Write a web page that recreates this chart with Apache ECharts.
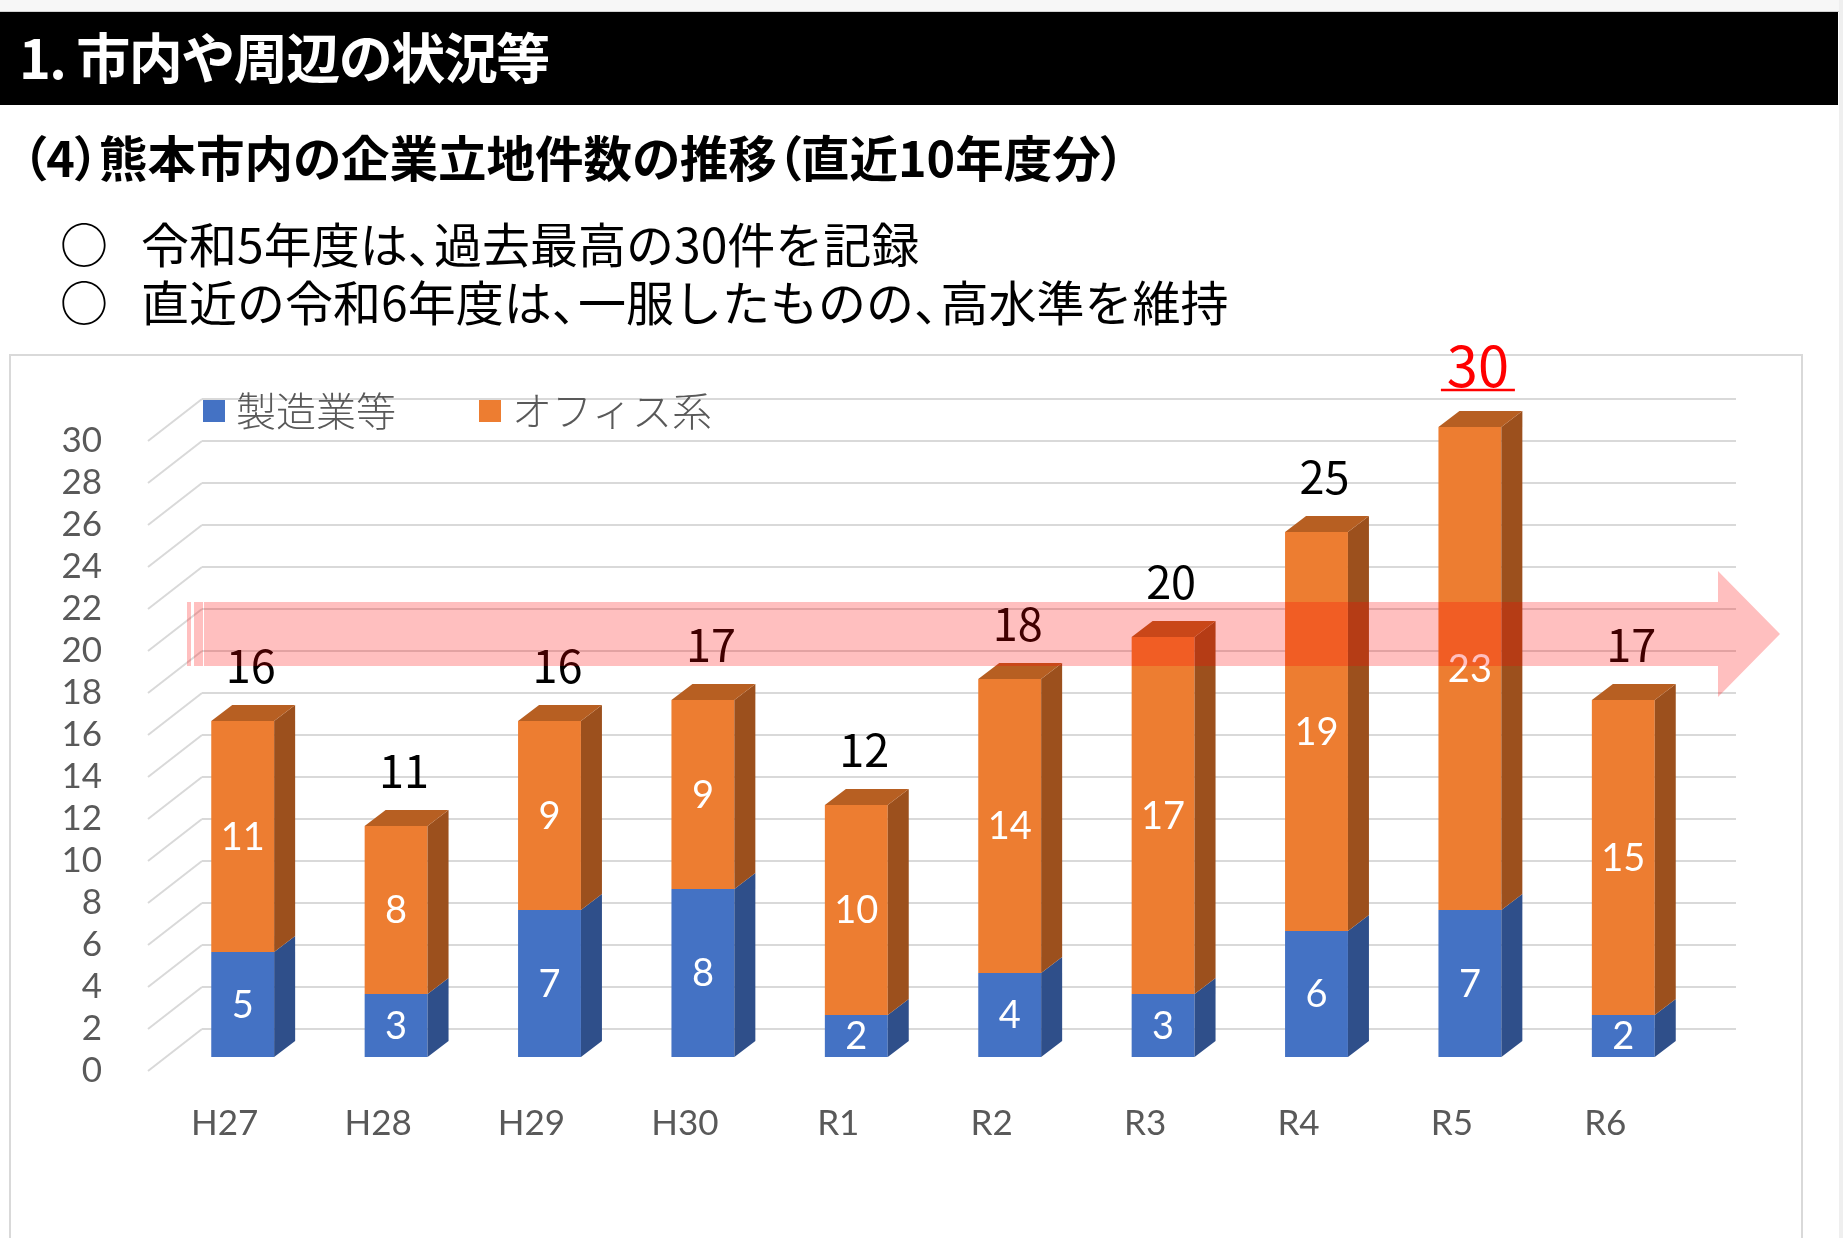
<!DOCTYPE html>
<html lang="ja">
<head>
<meta charset="utf-8">
<title>熊本市内の企業立地件数の推移</title>
<script src="https://cdn.jsdelivr.net/npm/echarts@6/dist/echarts.min.js"></script>
<style>
  html, body { margin: 0; padding: 0; width: 1843px; height: 1238px; overflow: hidden; background: #fff; font-family: "Noto Sans CJK JP", sans-serif; }
  #chart { position: absolute; left: 0; top: 0; width: 1843px; height: 1238px; }
  .strip { position: absolute; left: 0; top: 0; width: 1843px; height: 11px; background: #f7f7f7; border-bottom: 1px solid #d2d2d2; z-index: 2; }
  .edge { position: absolute; left: 1839px; top: 0; width: 4px; height: 1238px; background: #efefef; z-index: 2; }
  .band { position: absolute; left: 0; top: 12px; width: 1838px; height: 93px; background: #000; z-index: 2; }
  .band h1 { margin: 0; position: absolute; left: 19px; top: -3px; line-height: 93px; font-size: 54px; font-weight: 700; color: #fff; letter-spacing: -1.5px; }
  .sub { position: absolute; left: 22px; top: 126px; line-height: 60px; font-size: 48.5px; font-weight: 700; color: #000; font-feature-settings: "palt"; z-index: 2; white-space: nowrap; }
  .bullet { position: absolute; line-height: 56px; font-size: 48px; color: #000; z-index: 2; white-space: nowrap; }
  .bullet .c { letter-spacing: -0.45em; }
</style>
</head>
<body>
<div class="strip"></div>
<div class="edge"></div>
<div class="band"><h1>1. 市内や周辺の状況等</h1></div>
<div class="sub">（4）熊本市内の企業立地件数の推移（直近10年度分）</div>
<div class="bullet" style="left:60px; top:214px;">○</div>
<div class="bullet" style="left:141px; top:214px;">令和5年度は<span class="c">、</span>過去最高の30件を記録</div>
<div class="bullet" style="left:60px; top:272px;">○</div>
<div class="bullet" style="left:141px; top:272px;">直近の令和6年度は<span class="c">、</span>一服したものの<span class="c">、</span>高水準を維持</div>
<div id="chart"></div>
<script>
const categories = ["H27", "H28", "H29", "H30", "R1", "R2", "R3", "R4", "R5", "R6"];
const manufacturing = [5, 3, 7, 8, 2, 4, 3, 6, 7, 2];
const office = [11, 8, 9, 9, 10, 14, 17, 19, 23, 15];
const yTicks = [0, 2, 4, 6, 8, 10, 12, 14, 16, 18, 20, 22, 24, 26, 28, 30];

const totals = categories.map((_, i) => manufacturing[i] + office[i]);
const maxTotal = Math.max(...totals);

const blue = { front: "#4472c4", side: "#2f4f8a", top: "#3a62a8" };
const orange = { front: "#ed7d31", side: "#9c501d", top: "#b75f22" };
const grey = "#595959";
const gridLine = "#d9d9d9";

// 3D box: front plane, bar plane, back wall
const wallDepth = [54, -42];
const barDepth = [21, -16];

function prism(colors, withTop) {
  return (params, api) => {
    const i = api.value(0);
    const base = api.coord([i, api.value(1)]);
    const top = api.coord([i, api.value(2)]);
    const w = api.size([1, 0])[0] * 0.41;
    const xl = base[0] - w / 2;
    const xr = base[0] + w / 2;
    const [dx, dy] = barDepth;
    const children = [
      { type: "rect", shape: { x: xl, y: top[1], width: w, height: base[1] - top[1] }, style: { fill: colors.front } },
      { type: "polygon", shape: { points: [[xr, base[1]], [xr + dx, base[1] + dy], [xr + dx, top[1] + dy], [xr, top[1]]] }, style: { fill: colors.side } },
    ];
    if (withTop) {
      children.push({ type: "polygon", shape: { points: [[xl, top[1]], [xr, top[1]], [xr + dx, top[1] + dy], [xl + dx, top[1] + dy]] }, style: { fill: colors.top } });
    }
    children.push({
      type: "text",
      style: {
        x: base[0], y: (base[1] + top[1]) / 2 + 1,
        text: String(api.value(3)),
        fill: "#fff", fontSize: 38, fontFamily: "Lato",
        align: "center", verticalAlign: "middle", textAlign: "center", textVerticalAlign: "middle",
      },
    });
    return { type: "group", children };
  };
}

function totalLabel(params, api) {
  const i = api.value(0);
  const v = api.value(1);
  const p = api.coord([i, v]);
  const isMax = v === maxTotal;
  const size = isMax ? 56 : 45;
  const cx = p[0] + 8;
  const cy = p[1] - 33 - size / 2;
  const children = [{
    type: "text",
    style: {
      x: cx, y: cy, text: String(v),
      fill: isMax ? "#ff0000" : "#000", fontSize: size, fontFamily: "Noto Sans CJK JP",
      align: "center", verticalAlign: "middle", textAlign: "center", textVerticalAlign: "middle",
    },
  }];
  if (isMax) {
    children.push({ type: "line", shape: { x1: cx - 37, y1: cy + 24, x2: cx + 37, y2: cy + 24 }, style: { stroke: "#ff0000", lineWidth: 2.5 } });
  }
  return { type: "group", children };
}

function sideLine(params, api) {
  const y = api.coord([0, api.value(1)])[1];
  const x = params.coordSys.x;
  return { type: "line", shape: { x1: x, y1: y, x2: x + wallDepth[0], y2: y + wallDepth[1] }, style: { stroke: gridLine, lineWidth: 2 } };
}

const hiddenCat = (gridIndex) => ({ type: "category", gridIndex, data: categories, axisLine: { show: false }, axisTick: { show: false }, axisLabel: { show: false } });
const hiddenVal = (gridIndex, split) => ({
  type: "value", gridIndex, min: 0, max: 30, interval: 2,
  axisLine: { show: false }, axisTick: { show: false }, axisLabel: { show: false },
  splitLine: { show: split, lineStyle: { color: gridLine, width: 2 } },
});

const chart = echarts.init(document.getElementById("chart"));
chart.setOption({
  animation: false,
  grid: [
    { left: 148, top: 441, width: 1534, height: 630 },
    { left: 148 + wallDepth[0], top: 441 + wallDepth[1], width: 1534, height: 630 },
    { left: 166, top: 427, width: 1534, height: 630 },
  ],
  xAxis: [
    {
      type: "category", gridIndex: 0, data: categories,
      axisLine: { show: false }, axisTick: { show: false },
      axisLabel: { color: grey, fontSize: 35, fontFamily: "Lato", margin: 35 },
    },
    hiddenCat(1),
    hiddenCat(2),
  ],
  yAxis: [
    {
      type: "value", gridIndex: 0, min: 0, max: 30, interval: 2,
      axisLine: { show: false }, axisTick: { show: false }, splitLine: { show: false },
      axisLabel: { color: grey, fontSize: 35, fontFamily: "Lato", margin: 46 },
    },
    hiddenVal(1, true),
    hiddenVal(2, false),
  ],
  legend: {
    left: 198, top: 386, itemWidth: 22, itemHeight: 22, itemGap: 83, icon: "rect",
    selectedMode: false,
    textStyle: { fontSize: 40, color: grey, fontFamily: "Noto Sans CJK JP", fontWeight: 300, padding: [0, 0, 0, 6] },
    data: ["製造業等", "オフィス系"],
  },
  series: [
    {
      type: "custom", name: "side", xAxisIndex: 0, yAxisIndex: 0, silent: true,
      data: yTicks.map((v) => [0, v]), encode: { x: 0, y: 1 }, renderItem: sideLine,
    },
    {
      type: "custom", name: "製造業等", xAxisIndex: 2, yAxisIndex: 2, itemStyle: { color: blue.front },
      data: manufacturing.map((v, i) => [i, 0, v, v]), encode: { x: 0, y: [1, 2] }, renderItem: prism(blue, false),
    },
    {
      type: "custom", name: "オフィス系", xAxisIndex: 2, yAxisIndex: 2, itemStyle: { color: orange.front },
      data: office.map((v, i) => [i, manufacturing[i], manufacturing[i] + v, v]), encode: { x: 0, y: [1, 2] }, renderItem: prism(orange, true),
    },
    {
      type: "custom", name: "total", xAxisIndex: 2, yAxisIndex: 2, silent: true,
      data: totals.map((v, i) => [i, v]), encode: { x: 0, y: 1 }, renderItem: totalLabel,
    },
  ],
  graphic: [
    { type: "rect", z: -10, shape: { x: 10, y: 355, width: 1792, height: 1000 }, style: { fill: "none", stroke: "#d9d9d9", lineWidth: 2 } },
    {
      type: "polygon", z: 100,
      shape: { points: [[204, 602], [1718, 602], [1718, 571], [1780, 634], [1718, 697], [1718, 666], [204, 666]] },
      style: { fill: "rgba(255, 0, 0, 0.25)" },
    },
    { type: "rect", z: 100, shape: { x: 187, y: 602, width: 4, height: 64 }, style: { fill: "rgba(255, 0, 0, 0.25)" } },
    { type: "rect", z: 100, shape: { x: 194, y: 602, width: 9, height: 64 }, style: { fill: "rgba(255, 0, 0, 0.25)" } },
  ],
});
</script>
</body>
</html>
